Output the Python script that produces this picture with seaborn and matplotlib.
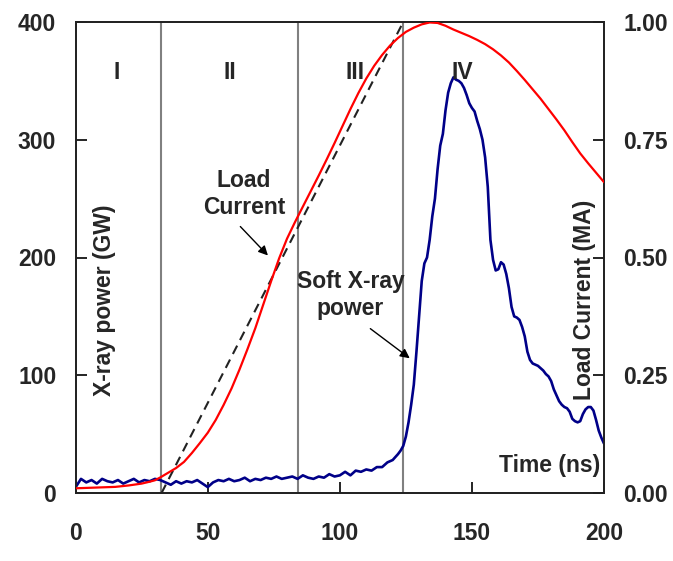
import matplotlib
matplotlib.use("Agg")
import matplotlib.pyplot as plt
import pandas as pd
import seaborn as sns

# ---------------- data ----------------
xray_t = [0, 2, 4, 6, 8, 10, 12, 14, 16, 18, 20, 22, 24, 26, 28, 30, 32, 34, 36, 38,
          40, 42, 44, 46, 48, 50, 52, 54, 56, 58, 60, 62, 64, 66, 68, 70, 72, 74, 76, 78,
          80, 82, 84, 86, 88, 90, 92, 94, 96, 98, 100, 102, 104, 106, 108, 110, 112, 114,
          116, 118, 120, 122, 123, 124, 125, 126, 127, 128, 129, 130, 131, 132, 133, 134,
          135, 136, 137, 138, 139, 140, 141, 142, 143, 144, 145, 146, 147, 148, 149, 150,
          151, 152, 153, 154, 155, 156, 157, 158, 159, 160, 161, 162, 163, 164, 165, 166,
          167, 168, 169, 170, 171, 172, 173, 174, 175, 176, 177, 178, 179, 180, 181, 182,
          183, 184, 185, 186, 187, 188, 189, 190, 191, 192, 193, 194, 195, 196, 197, 198,
          199, 200]
xray_gw = [5, 12, 9, 11, 8, 12, 10, 9, 11, 8, 10, 12, 9, 11, 10, 12, 11, 9, 7, 10,
           8, 10, 9, 11, 8, 5, 9, 11, 10, 12, 10, 11, 13, 10, 12, 11, 13, 12, 14, 12,
           13, 14, 12, 15, 13, 12, 14, 13, 16, 14, 15, 18, 15, 19, 18, 20, 19, 22,
           22, 26, 28, 33, 36, 40, 48, 60, 75, 92, 120, 150, 180, 195, 200, 215,
           235, 250, 275, 295, 305, 325, 340, 348, 353, 351, 350, 348, 344, 338, 331, 327,
           324, 316, 309, 300, 285, 260, 215, 198, 189, 190, 196, 194, 186, 174, 158, 150,
           149, 147, 141, 133, 120, 113, 110, 109, 108, 106, 104, 101, 99, 95, 88, 83,
           78, 75, 73, 72, 69, 63, 61, 60, 61, 67, 71, 73, 73, 70, 62, 53,
           47, 42]

current_t = [0, 5, 10, 15, 20, 25, 28, 30, 32, 35, 38, 41, 44, 47, 50, 53, 56, 59, 62,
             65, 68, 71, 74, 77, 80, 83, 86, 89, 92, 95, 98, 101, 104, 107, 110, 113,
             116, 119, 122, 125, 128, 131, 134, 137, 140, 143, 146, 149, 152, 155, 158,
             161, 164, 167, 170, 173, 176, 179, 182, 185, 188, 191, 194, 197, 200]
current_ma = [0.010, 0.011, 0.012, 0.013, 0.016, 0.020, 0.024, 0.027, 0.033, 0.043,
              0.053, 0.066, 0.085, 0.106, 0.128, 0.155, 0.187, 0.222, 0.262,
              0.305, 0.350, 0.400, 0.450, 0.498, 0.540, 0.575, 0.608, 0.641, 0.674,
              0.708, 0.743, 0.779, 0.815, 0.849, 0.880, 0.907, 0.930, 0.950, 0.966,
              0.979, 0.988, 0.995, 0.999, 0.998, 0.992, 0.984, 0.977, 0.970, 0.962,
              0.953, 0.942, 0.929, 0.914, 0.896, 0.877, 0.857, 0.837, 0.815, 0.793,
              0.770, 0.745, 0.721, 0.700, 0.680, 0.660]

ramp_t = [32.5, 124.0]
ramp_ma = [0.0, 1.0]

phase_bounds = [32.3, 84.3, 124.0]
phase_labels = ["I", "II", "III", "IV"]
phase_label_x = [15.6, 58.4, 105.7, 146.2]

x_ticks = [0, 50, 100, 150, 200]
left_ticks = [0, 100, 200, 300, 400]
right_ticks = [0, 0.25, 0.5, 0.75, 1.0]
right_tick_labels = ["0.00", "0.25", "0.50", "0.75", "1.00"]

# ---------------- style ----------------
sns.set_style("white")
plt.rcParams["font.family"] = ["Liberation Sans", "DejaVu Sans"]
plt.rcParams["font.weight"] = "bold"
FS = 16.5

W, H = 673, 561
fig = plt.figure(figsize=(W / 100, H / 100), dpi=100)
L, R, T, B = 75.7, 604.0, 22.0, 493.0
ax = fig.add_axes([L / W, 1 - B / H, (R - L) / W, (B - T) / H])
ax2 = ax.twinx()

xray_df = pd.DataFrame({"t": xray_t, "gw": xray_gw})
cur_df = pd.DataFrame({"t": current_t, "ma": current_ma})
ramp_df = pd.DataFrame({"t": ramp_t, "ma": ramp_ma})

for xb in phase_bounds:
    ax.axvline(xb, color="#808080", lw=1.5, zorder=1)

sns.lineplot(data=xray_df, x="t", y="gw", ax=ax, color="#000088", linewidth=1.9,
             estimator=None, sort=False, zorder=3)
sns.lineplot(data=ramp_df, x="t", y="ma", ax=ax2, color="#222222", linewidth=1.5,
             linestyle=(0, (4.5, 3)), estimator=None, zorder=2)
sns.lineplot(data=cur_df, x="t", y="ma", ax=ax2, color="#ff0000", linewidth=1.6,
             estimator=None, zorder=4)

ax.set_xlim(0, 200)
ax.set_ylim(0, 400)
ax2.set_ylim(0, 1.0)
ax.set_xlabel("")
ax.set_ylabel("")
ax2.set_xlabel("")
ax2.set_ylabel("")

ax.set_xticks(x_ticks)
ax.set_xticklabels([str(v) for v in x_ticks])
ax.set_yticks(left_ticks)
ax.set_yticklabels([str(v) for v in left_ticks])
ax2.set_yticks(right_ticks)
ax2.set_yticklabels(right_tick_labels)

ax.tick_params(axis="x", direction="in", length=8, width=1.2, color="black",
               labelsize=FS, pad=21, bottom=True, top=False)
ax.tick_params(axis="y", direction="in", length=8, width=1.2, color="black",
               labelsize=FS, pad=14, left=True, right=False)
ax2.tick_params(axis="y", direction="in", length=8, width=1.2, color="black",
                labelsize=FS, pad=14, right=True, left=False)
for a in (ax, ax2):
    for lab in a.get_xticklabels() + a.get_yticklabels():
        lab.set_fontweight("bold")
    for s in a.spines.values():
        s.set_color("#222222")
        s.set_linewidth(1.3)
        s.set_visible(True)

# phase labels
for lab, xp in zip(phase_labels, phase_label_x):
    ax.text(xp, 357, lab, ha="center", va="center", fontsize=FS, fontweight="bold")

# annotations
ax.text(63.7, 254, "Load\nCurrent", ha="center", va="center", fontsize=FS,
        fontweight="bold", linespacing=1.25)
ax.annotate("", xy=(73.5, 200), xytext=(61.6, 228),
            arrowprops=dict(arrowstyle="-|>", color="black", lw=1.0, mutation_scale=14))
ax.text(104.0, 168, "Soft X-ray\npower", ha="center", va="center", fontsize=FS,
        fontweight="bold", linespacing=1.25)
ax.annotate("", xy=(127.3, 113), xytext=(110.7, 141),
            arrowprops=dict(arrowstyle="-|>", color="black", lw=1.0, mutation_scale=14))

ax.text(198.5, 23, "Time (ns)", ha="right", va="center", fontsize=FS, fontweight="bold")

fig.text(105 / W, 1 - 300 / H, "X-ray power (GW)", rotation=90, ha="center",
         va="center", fontsize=FS, fontweight="bold")
fig.text(584 / W, 1 - 300 / H, "Load Current (MA)", rotation=90, ha="center",
         va="center", fontsize=FS, fontweight="bold")

fig.savefig("out.png", dpi=100, facecolor="white")
